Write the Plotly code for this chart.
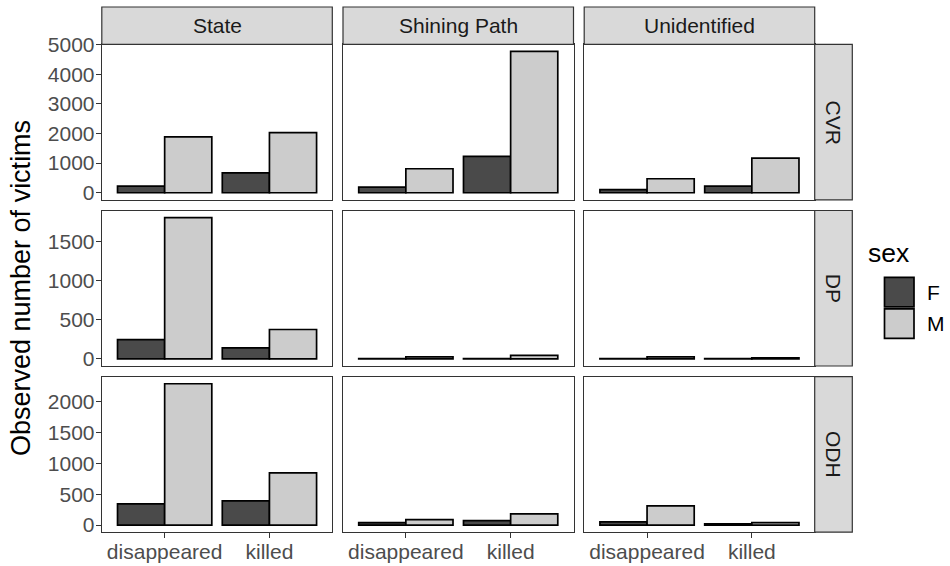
import plotly.graph_objects as go

# ---------------- data ----------------
perpetrators = ["State", "Shining Path", "Unidentified"]
sources = ["CVR", "DP", "ODH"]
violations = ["disappeared", "killed"]
sexes = ["F", "M"]

# order: State(disappeared, killed), Shining Path(disappeared, killed), Unidentified(disappeared, killed)
cvr_F = [225, 673, 190, 1230, 105, 225]
cvr_M = [1884, 2031, 810, 4770, 471, 1167]
dp_F = [247, 140, 5, 5, 4, 4]
dp_M = [1801, 375, 25, 45, 25, 14]
odh_F = [343, 391, 40, 74, 53, 20]
odh_M = [2287, 847, 90, 182, 311, 42]

values = {
    "CVR": {"F": cvr_F, "M": cvr_M},
    "DP": {"F": dp_F, "M": dp_M},
    "ODH": {"F": odh_F, "M": odh_M},
}

# ---------------- style ----------------
W, H = 950, 566
FILL = {"F": "#4a4a4a", "M": "#cccccc"}
col_px = [(101.8, 332.3), (343.0, 573.5), (584.2, 814.7)]
row_px = [(44.3, 199.8), (210.5, 366.0), (376.7, 532.2)]
row_dtick = [1000, 500, 500]
FONT = "Liberation Sans, Arial, Helvetica, sans-serif"
BORDER = "#333333"


def fx(px):
    return px / W


def fy(py):
    return 1 - py / H


fig = go.Figure()
layout = dict(
    width=W, height=H,
    margin=dict(l=0, r=0, t=0, b=0),
    paper_bgcolor="white", plot_bgcolor="white",
    barmode="group", bargap=0.1, bargroupgap=0,
    showlegend=False,
    font=dict(family=FONT),
)
shapes = []
annotations = []

for r, src in enumerate(sources):
    row_max = max(max(values[src]["F"]), max(values[src]["M"]))
    yr = [-0.05 * row_max, 1.05 * row_max]
    for c, perp in enumerate(perpetrators):
        i = r * 3 + c + 1
        xa = "x" if i == 1 else f"x{i}"
        ya = "y" if i == 1 else f"y{i}"
        for s in sexes:
            vals = values[src][s][2 * c:2 * c + 2]
            fig.add_trace(go.Bar(
                x=violations, y=vals, name=s,
                xaxis=xa, yaxis=ya,
                marker=dict(color=FILL[s], line=dict(color="black", width=1.7)),
                offsetgroup=s,
            ))
        bottom = (r == 2)
        left = (c == 0)
        x0, x1 = col_px[c]
        y0, y1 = row_px[r]
        layout["xaxis" if i == 1 else f"xaxis{i}"] = dict(
            domain=[fx(x0), fx(x1)], anchor=ya,
            type="category", categoryorder="array", categoryarray=violations,
            range=[-0.6, 1.6], automargin=False,
            showline=True, linecolor=BORDER, linewidth=1.2, mirror=True,
            showgrid=False, zeroline=False,
            ticks="outside" if bottom else "", ticklen=5, tickwidth=1.1, tickcolor=BORDER,
            showticklabels=bottom,
            tickfont=dict(size=21, color="#4d4d4d", family=FONT),
        )
        layout["yaxis" if i == 1 else f"yaxis{i}"] = dict(
            domain=[fy(y1), fy(y0)], anchor=xa,
            range=yr, dtick=row_dtick[r], tick0=0, automargin=False,
            showline=True, linecolor=BORDER, linewidth=1.2, mirror=True,
            showgrid=False, zeroline=False,
            ticks="outside" if left else "", ticklen=5, tickwidth=1.1, tickcolor=BORDER,
            showticklabels=left,
            tickfont=dict(size=21, color="#4d4d4d", family=FONT),
        )

# top strips
for c, perp in enumerate(perpetrators):
    x0, x1 = col_px[c]
    shapes.append(dict(type="rect", xref="paper", yref="paper",
                       x0=fx(x0), x1=fx(x1), y0=fy(44.3), y1=fy(7.0),
                       fillcolor="#d9d9d9", line=dict(color=BORDER, width=1.2)))
    annotations.append(dict(text=perp, xref="paper", yref="paper",
                            x=fx((x0 + x1) / 2), y=fy(25.7), showarrow=False,
                            xanchor="center", yanchor="middle",
                            font=dict(size=21, color="#1a1a1a", family=FONT)))

# right strips
for r, src in enumerate(sources):
    y0, y1 = row_px[r]
    shapes.append(dict(type="rect", xref="paper", yref="paper",
                       x0=fx(814.7), x1=fx(852.3), y0=fy(y1), y1=fy(y0),
                       fillcolor="#d9d9d9", line=dict(color=BORDER, width=1.2)))
    annotations.append(dict(text=src, xref="paper", yref="paper",
                            x=fx(833.5), y=fy((y0 + y1) / 2), showarrow=False,
                            textangle=90, xanchor="center", yanchor="middle",
                            font=dict(size=21, color="#1a1a1a", family=FONT)))

# y axis title
annotations.append(dict(text="Observed number of victims", xref="paper", yref="paper",
                        x=fx(21), y=fy(288), showarrow=False, textangle=-90,
                        xanchor="center", yanchor="middle",
                        font=dict(size=27, color="black", family=FONT)))

# legend (manual, ggplot style)
annotations.append(dict(text="sex", xref="paper", yref="paper",
                        x=fx(866), y=fy(253), showarrow=False,
                        xanchor="left", yanchor="middle",
                        font=dict(size=26.5, color="black", family=FONT)))
key_top = [277.3, 308.8]
for k, s in enumerate(sexes):
    ky0 = key_top[k]
    shapes.append(dict(type="rect", xref="paper", yref="paper",
                       x0=fx(884.5), x1=fx(914), y0=fy(ky0 + 29.5), y1=fy(ky0),
                       fillcolor=FILL[s], line=dict(color="black", width=1.7)))
    annotations.append(dict(text=s, xref="paper", yref="paper",
                            x=fx(925), y=fy(ky0 + 15), showarrow=False,
                            xanchor="left", yanchor="middle",
                            font=dict(size=21, color="black", family=FONT)))

layout["shapes"] = shapes
layout["annotations"] = annotations
fig.update_layout(**layout)

# ggplot-like spacing between ticks and tick labels
for i in range(1, 10):
    try:
        if i in (1, 4, 7):
            fig.layout["yaxis" if i == 1 else f"yaxis{i}"].ticklabelstandoff = -3
        if i in (7, 8, 9):
            fig.layout[f"xaxis{i}"].ticklabelstandoff = -5
    except Exception:
        pass

post = (
    "document.documentElement.style.margin='0';"
    "document.body.style.margin='0';document.body.style.padding='0';"
)
fig.write_html("out.html", post_script=post, config={"displayModeBar": False})
